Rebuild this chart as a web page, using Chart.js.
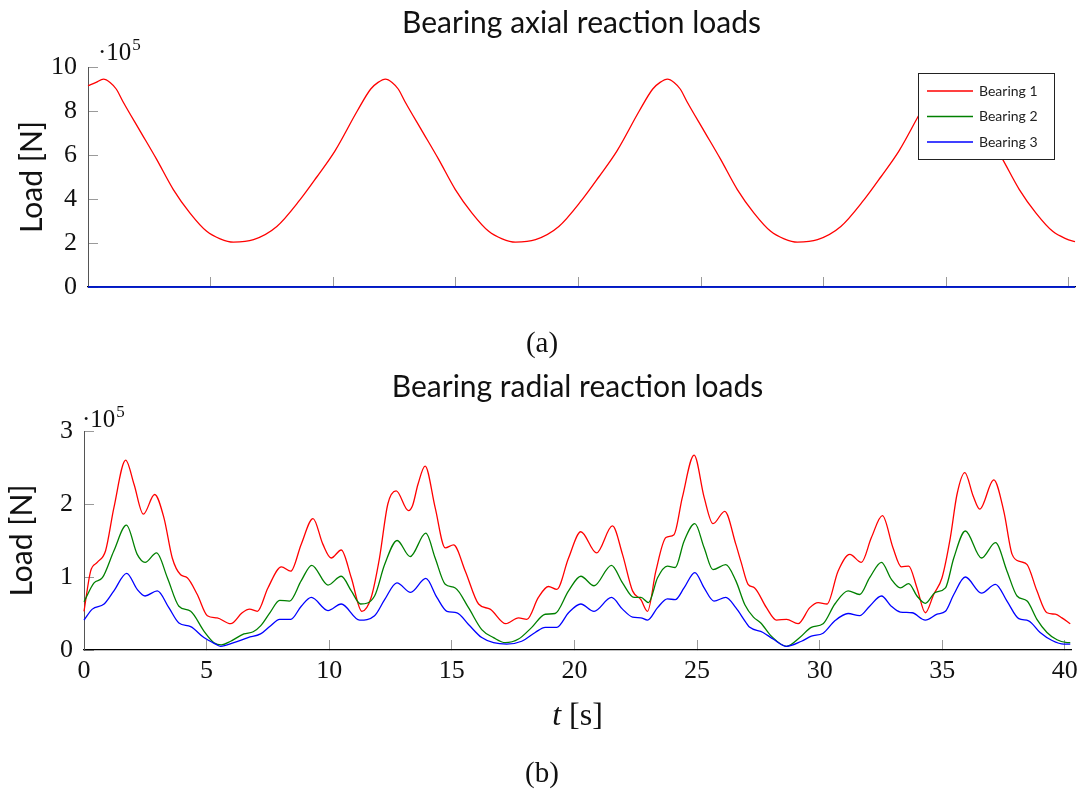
<!DOCTYPE html>
<html>
<head>
<meta charset="utf-8">
<title>Bearing reaction loads</title>
<script src="https://cdn.jsdelivr.net/npm/chart.js@4.4.1/dist/chart.umd.min.js"></script>
<style>
  body { margin: 0; background: #fff; }
  #page { position: relative; width: 1084px; height: 791px; overflow: hidden; }
  canvas { position: absolute; left: 0; }
  .sub { position: absolute; left: 0; width: 1084px; text-align: center;
         font-family: 'Liberation Serif', serif; font-size: 29px; line-height: 34px; color: #111; }
</style>
</head>
<body>
<div id="page">
  <canvas id="axialChart" width="1084" height="360" style="top:0"></canvas>
  <div class="sub" style="top:325px">(a)</div>
  <canvas id="radialChart" width="1084" height="431" style="top:360px"></canvas>
  <div class="sub" style="top:755px">(b)</div>
</div>
<script>
// Series names and colours (pgfplots red / green / blue)
const seriesLabels = ['Bearing 1', 'Bearing 2', 'Bearing 3'];
const seriesColors = ['#ff0000', '#008000', '#0000ff'];

// Time axis range [s]
const timeMin = 0;
const timeMax = 40.25;

// Axial loads, in units of 1e5 N
const axialTime = [0, 0.33, 0.63, 0.9, 1.15, 1.44, 2.12, 2.8, 3.48, 4.16, 4.84, 5.39, 5.93, 6.75, 7.7, 8.65, 9.33, 10.08, 10.98, 11.53, 11.83, 12.13,
  12.4, 12.65, 12.94, 13.62, 14.3, 14.98, 15.66, 16.34, 16.89, 17.43, 18.25, 19.2, 20.15, 20.83, 21.58, 22.48, 23.03, 23.33, 23.63,
  23.9, 24.15, 24.44, 25.12, 25.8, 26.48, 27.16, 27.84, 28.39, 28.93, 29.75, 30.7, 31.65, 32.33, 33.08, 33.98, 34.53, 34.83, 35.13,
  35.4, 35.65, 35.94, 36.62, 37.3, 37.98, 38.66, 39.34, 39.89, 40.25];
const axialLoad1 = [9.15, 9.3, 9.45, 9.3, 9.0, 8.4, 7.1, 5.8, 4.43, 3.36, 2.53, 2.19, 2.04, 2.15, 2.75, 3.97, 5.0, 6.2, 8.0, 9.0, 9.3, 9.45,
  9.3, 9.0, 8.4, 7.1, 5.8, 4.43, 3.36, 2.53, 2.19, 2.04, 2.15, 2.75, 3.97, 5.0, 6.2, 8.0, 9.0, 9.3, 9.45,
  9.3, 9.0, 8.4, 7.1, 5.8, 4.43, 3.36, 2.53, 2.19, 2.04, 2.15, 2.75, 3.97, 5.0, 6.2, 8.0, 9.0, 9.3, 9.45,
  9.3, 9.0, 8.4, 7.1, 5.8, 4.43, 3.36, 2.53, 2.19, 2.06];
const axialTimeFlat = [0, 40.25];
const axialLoad2 = [0, 0];
const axialLoad3 = [0, 0];

// Radial loads, in units of 1e5 N
const radialTime1 = [0, 0.27, 0.54, 0.88, 1.22, 1.7, 2.04, 2.42, 2.88, 3.26, 3.6, 3.94, 4.21, 4.62, 5.03, 5.43, 5.98, 6.45,
  6.75, 7.07, 7.5, 8.05, 8.43, 8.86, 9.34, 9.74, 10.08, 10.49, 10.9, 11.33, 11.71, 12.05, 12.39, 12.73, 13.23,
  13.4, 13.62, 13.91, 14.32, 14.73, 15.07, 15.55, 16.09, 16.56, 17.2, 17.72, 18.06, 18.53, 18.94, 19.28, 19.76,
  20.26, 20.9, 21.55, 21.96, 22.37, 22.71, 22.98, 23.32, 23.73, 24.06, 24.4, 24.88, 25.29, 25.65, 26.13, 26.58,
  26.8, 27.08, 27.35, 27.83, 28.24, 28.65, 29.12, 29.6, 29.94, 30.3, 30.75, 31.23, 31.7, 32.11, 32.56, 32.99, 33.33, 33.63,
  33.97, 34.31, 34.65, 34.99, 35.33, 35.6, 35.92, 36.26, 36.53, 37.1, 37.51, 37.85, 38.19, 38.46, 38.86, 39.27, 39.61, 39.88, 40.22];
const radialLoad1 = [0.53, 1.08, 1.2, 1.36, 1.95, 2.6, 2.27, 1.86, 2.13, 1.81, 1.26, 1.03, 0.99, 0.76, 0.47, 0.44, 0.36, 0.51,
  0.56, 0.53, 0.85, 1.14, 1.08, 1.45, 1.8, 1.45, 1.26, 1.37, 0.99, 0.53, 0.72, 1.26, 2.0, 2.18, 1.91,
  1.98, 2.27, 2.52, 1.95, 1.4, 1.44, 1.08, 0.63, 0.56, 0.36, 0.44, 0.42, 0.72, 0.87, 0.83, 1.26,
  1.62, 1.33, 1.7, 1.31, 0.81, 0.69, 0.53, 1.08, 1.54, 1.58, 2.09, 2.67, 2.09, 1.73, 1.9, 1.45,
  1.2, 0.9, 0.85, 0.58, 0.41, 0.42, 0.36, 0.58, 0.65, 0.63, 1.08, 1.31, 1.2, 1.54, 1.84, 1.4, 1.14, 1.15,
  0.85, 0.51, 0.76, 0.99, 1.54, 2.13, 2.43, 2.11, 1.93, 2.33, 1.9, 1.31, 1.21, 1.17, 0.81, 0.51, 0.49, 0.44, 0.36];

const radialTime2 = [0, 0.41, 0.75, 1.22, 1.73, 2.17, 2.49, 2.96, 3.4, 3.87, 4.35, 4.89, 5.3, 5.6, 5.98, 6.52, 6.9,
  7.2, 7.6, 7.98, 8.38, 8.86, 9.29, 9.95, 10.49, 10.9, 11.28, 11.85, 12.26, 12.77, 13.3,
  13.94, 14.32, 14.73, 15.14, 15.68, 16.22, 16.7, 17.18, 17.72, 18.26, 18.81, 19.21, 19.76,
  20.26, 20.8, 21.51, 21.96, 22.43, 22.71, 23.02, 23.39, 23.79, 24.11, 24.47, 24.91, 25.29, 25.65, 26.17, 26.58,
  26.95, 27.3, 27.6, 28.03, 28.65, 29.19, 29.66, 30.14, 30.62, 31.16, 31.63, 32.04, 32.52, 32.92, 33.29, 33.63,
  33.97, 34.31, 34.72, 35.13, 35.47, 35.94, 36.6, 37.17, 37.64, 38.05, 38.46, 38.86, 39.27, 39.68, 40.09, 40.22];
const radialLoad2 = [0.66, 0.92, 0.99, 1.36, 1.71, 1.31, 1.2, 1.33, 0.99, 0.6, 0.53, 0.26, 0.1, 0.07, 0.12, 0.22, 0.25,
  0.33, 0.52, 0.68, 0.67, 0.95, 1.16, 0.89, 1.01, 0.81, 0.63, 0.74, 1.17, 1.5, 1.28,
  1.6, 1.26, 0.9, 0.85, 0.58, 0.28, 0.17, 0.1, 0.15, 0.31, 0.49, 0.5, 0.81,
  1.01, 0.88, 1.16, 0.92, 0.72, 0.72, 0.65, 0.99, 1.15, 1.13, 1.49, 1.73, 1.4, 1.1, 1.17, 0.95,
  0.62, 0.45, 0.37, 0.19, 0.05, 0.17, 0.31, 0.36, 0.63, 0.81, 0.76, 0.99, 1.2, 0.97, 0.85, 0.91,
  0.74, 0.64, 0.79, 0.85, 1.26, 1.63, 1.26, 1.47, 1.08, 0.74, 0.67, 0.42, 0.24, 0.14, 0.1, 0.1];

const radialTime3 = [0, 0.34, 0.82, 1.22, 1.74, 2.17, 2.49, 2.99, 3.46, 3.87, 4.35, 4.89, 5.37, 5.57, 6.11, 6.69,
  7.2, 7.6, 7.98, 8.43, 8.86, 9.27, 9.95, 10.49, 11.24, 11.85, 12.26, 12.76, 13.32,
  13.94, 14.39, 14.8, 15.21, 15.68, 16.22, 16.7, 17.24, 17.85, 18.4, 18.81, 19.28, 19.76,
  20.26, 20.8, 21.51, 21.96, 22.37, 22.71, 22.98, 23.39, 23.79, 24.11, 24.47, 24.91, 25.29, 25.69, 26.17, 26.58, 26.99,
  27.15, 27.69, 28.1, 28.65, 29.26, 29.66, 30.14, 30.62, 31.16, 31.63, 32.04, 32.52, 32.92, 33.29,
  33.77, 34.31, 34.79, 35.13, 35.47, 35.94, 36.6, 37.17, 37.64, 38.12, 38.52, 38.99, 39.48, 39.96, 40.22];
const radialLoad3 = [0.41, 0.56, 0.63, 0.81, 1.05, 0.83, 0.74, 0.81, 0.58, 0.37, 0.32, 0.17, 0.08, 0.05, 0.1, 0.17,
  0.22, 0.33, 0.42, 0.42, 0.6, 0.72, 0.54, 0.63, 0.41, 0.47, 0.69, 0.92, 0.79,
  0.98, 0.72, 0.53, 0.51, 0.35, 0.17, 0.1, 0.08, 0.12, 0.24, 0.31, 0.31, 0.51,
  0.63, 0.53, 0.72, 0.56, 0.45, 0.44, 0.41, 0.58, 0.7, 0.69, 0.85, 1.06, 0.85, 0.67, 0.72, 0.58, 0.38,
  0.31, 0.24, 0.15, 0.05, 0.12, 0.19, 0.23, 0.4, 0.5, 0.47, 0.6, 0.74, 0.6, 0.52,
  0.51, 0.41, 0.49, 0.53, 0.76, 1.0, 0.78, 0.9, 0.67, 0.43, 0.4, 0.24, 0.13, 0.08, 0.08];

const serif = '"Liberation Serif", "DejaVu Serif", serif';
const sans = 'Lato, "Noto Sans", sans-serif';

function toPoints(ts, vs) {
  return ts.map((t, i) => ({ x: t, y: vs[i] }));
}

function makeDataset(i, ts, vs) {
  return {
    label: seriesLabels[i],
    data: toPoints(ts, vs),
    borderColor: seriesColors[i],
    backgroundColor: seriesColors[i],
    borderWidth: 1.3,
    pointRadius: 0,
    fill: false,
    cubicInterpolationMode: 'monotone',
    order: 2 - i, // later series drawn on top, like pgfplots
    clip: false
  };
}

// plot title, centred over the plot area (not the canvas)
const plotTitle = {
  id: 'plotTitle',
  afterDraw(chart, args, opts) {
    const ctx = chart.ctx;
    const area = chart.chartArea;
    ctx.save();
    ctx.fillStyle = '#111';
    ctx.font = '30px ' + sans;
    ctx.textAlign = 'center';
    ctx.textBaseline = 'alphabetic';
    ctx.fillText(opts.text, (area.left + area.right) / 2, opts.y);
    ctx.restore();
  }
};

// "·10^5" scale label above the y axis
const expLabel = {
  id: 'expLabel',
  afterDraw(chart, args, opts) {
    const ctx = chart.ctx;
    const x = chart.chartArea.left + opts.dx;
    const y = chart.chartArea.top + opts.dy;
    ctx.save();
    ctx.fillStyle = '#111';
    ctx.textBaseline = 'alphabetic';
    ctx.font = '25px ' + serif;
    ctx.fillText('\u00b710', x, y);
    const w = ctx.measureText('\u00b710').width;
    ctx.font = '17px ' + serif;
    ctx.fillText('5', x + w + 1, y - 10);
    ctx.restore();
  }
};

// boxed legend in the upper right of the plot area
const boxLegend = {
  id: 'boxLegend',
  afterDraw(chart, args, opts) {
    if (!opts.show) return;
    const ctx = chart.ctx;
    const area = chart.chartArea;
    const w = 136, h = 86;
    const x = Math.round(area.right - 21 - w), y = Math.round(area.top + 6);
    ctx.save();
    ctx.fillStyle = '#fff';
    ctx.fillRect(x, y, w, h);
    ctx.strokeStyle = '#222';
    ctx.lineWidth = 1;
    ctx.strokeRect(x + 0.5, y + 0.5, w, h);
    ctx.font = '14px ' + sans;
    ctx.textBaseline = 'middle';
    chart.data.datasets.forEach((ds, i) => {
      const ly = y + 18 + i * 25.5;
      ctx.strokeStyle = ds.borderColor;
      ctx.lineWidth = 1.3;
      ctx.beginPath();
      ctx.moveTo(x + 9, ly);
      ctx.lineTo(x + 55, ly);
      ctx.stroke();
      ctx.fillStyle = '#222';
      ctx.fillText(ds.label, x + 61, ly);
    });
    ctx.restore();
  }
};

// x axis title with an italic t
const timeTitle = {
  id: 'timeTitle',
  afterDraw(chart, args, opts) {
    if (!opts.show) return;
    const ctx = chart.ctx;
    const area = chart.chartArea;
    ctx.save();
    ctx.fillStyle = '#111';
    ctx.textBaseline = 'middle';
    ctx.font = 'italic 32px ' + serif;
    const wt = ctx.measureText('t').width;
    ctx.font = '32px ' + serif;
    const ws = ctx.measureText(' [s]').width;
    const x0 = (area.left + area.right) / 2 - (wt + ws) / 2;
    ctx.font = 'italic 32px ' + serif;
    ctx.fillText('t', x0, opts.y);
    ctx.font = '32px ' + serif;
    ctx.fillText(' [s]', x0 + wt, opts.y);
    ctx.restore();
  }
};

function makeOptions(cfg) {
  return {
    responsive: false,
    animation: false,
    layout: { padding: { left: 0, right: cfg.padRight, top: cfg.padTop, bottom: 0 } },
    scales: {
      x: {
        type: 'linear',
        min: timeMin,
        max: timeMax,
        ticks: {
          display: cfg.showXLabels,
          stepSize: 5,
          includeBounds: false,
          maxRotation: 0,
          padding: 16,
          color: '#111',
          font: { family: serif, size: 26 }
        },
        grid: { drawOnChartArea: false, drawTicks: true, tickLength: -10, tickColor: '#9a9a9a' },
        border: { display: true, color: '#000', width: 1.2 },
        afterFit: s => {
          s.height = cfg.xHeight;
          s.paddingLeft = 0;
          s.paddingRight = 0;
        }
      },
      y: {
        min: 0,
        max: cfg.yMax,
        ticks: {
          stepSize: cfg.yStep,
          padding: 21,
          color: '#111',
          font: { family: serif, size: 26 }
        },
        grid: { drawOnChartArea: false, drawTicks: true, tickLength: -10, tickColor: '#9a9a9a' },
        border: { display: true, color: '#555', width: 1 },
        title: {
          display: true,
          text: 'Load [N]',
          color: '#111',
          font: { family: sans, size: 30 },
          padding: { top: cfg.yTitlePad, bottom: 0 }
        },
        afterFit: s => { s.width = cfg.yWidth; }
      }
    },
    plugins: {
      legend: { display: false },
      tooltip: { enabled: false },
      title: { display: false },
      plotTitle: { text: cfg.title, y: cfg.titleY },
      expLabel: { dx: cfg.expDx, dy: cfg.expDy },
      boxLegend: { show: cfg.legend },
      timeTitle: { show: cfg.timeTitle, y: cfg.timeTitleY }
    }
  };
}

// Upper plot: axial reaction loads
new Chart(document.getElementById('axialChart'), {
  type: 'line',
  data: {
    datasets: [
      makeDataset(0, axialTime, axialLoad1),
      makeDataset(1, axialTimeFlat, axialLoad2),
      makeDataset(2, axialTimeFlat, axialLoad3)
    ]
  },
  options: makeOptions({
    title: 'Bearing axial reaction loads', titleY: 33,
    padTop: 67, padRight: 9, xHeight: 73, yWidth: 88, yMax: 10, yStep: 2, yTitlePad: 14,
    showXLabels: false, expDx: 10, expDy: -7, legend: true, timeTitle: false, timeTitleY: 0
  }),
  plugins: [plotTitle, expLabel, boxLegend, timeTitle]
});

// Lower plot: radial reaction loads
new Chart(document.getElementById('radialChart'), {
  type: 'line',
  data: {
    datasets: [
      makeDataset(0, radialTime1, radialLoad1),
      makeDataset(1, radialTime2, radialLoad2),
      makeDataset(2, radialTime3, radialLoad3)
    ]
  },
  options: makeOptions({
    title: 'Bearing radial reaction loads', titleY: 37,
    padTop: 71, padRight: 13, xHeight: 141, yWidth: 84, yMax: 3, yStep: 1, yTitlePad: 4,
    showXLabels: true, expDx: -2, expDy: -4, legend: false, timeTitle: true, timeTitleY: 357
  }),
  plugins: [plotTitle, expLabel, boxLegend, timeTitle]
});
</script>
</body>
</html>
